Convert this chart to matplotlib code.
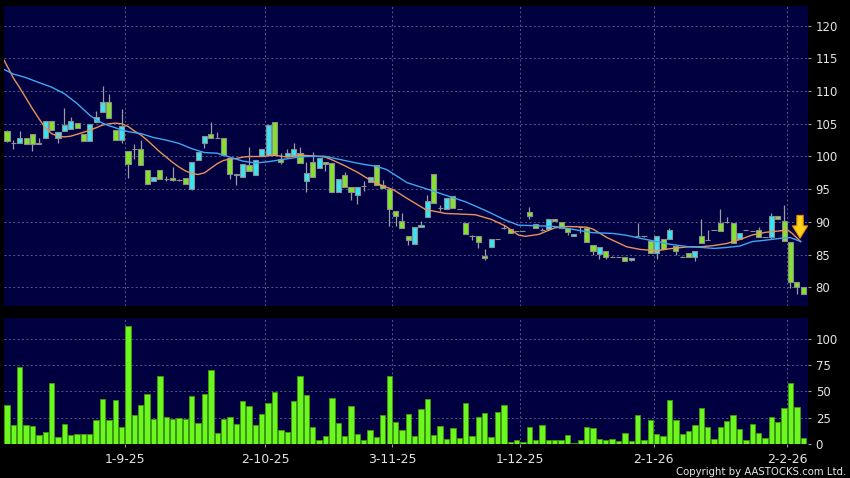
import numpy as np
import matplotlib
matplotlib.use('Agg')
import matplotlib.pyplot as plt

# daily candles, one entry per trading day (index 0 = first bar on the left)
opens = [103.9, 102.0, 102.0, 102.8, 103.4, 101.9, 102.8, 105.4, 102.9, 103.9,
         104.2, 105.1, 103.5, 102.3, 105.2, 106.8, 108.4, 104.0, 102.5, 100.9,
         101.1, 101.2, 98.0, 96.3, 98.0, 96.5, 96.7, 96.4, 96.7, 95.0,
         99.5, 102.0, 103.5, 102.9, 102.8, 99.7, 97.4, 96.9, 98.7, 97.2,
         100.0, 100.2, 105.2, 99.6, 100.1, 100.1, 100.6, 96.2, 99.2, 98.2,
         99.2, 99.0, 94.6, 97.1, 95.4, 94.1, 95.5, 96.1, 98.7, 95.7,
         95.0, 91.7, 90.1, 87.8, 86.7, 89.3, 90.7, 97.4, 92.2, 91.9,
         93.9, 92.0, 89.9, 87.9, 87.9, 84.8, 86.1, 87.4, 89.0, 88.9,
         88.6, 88.6, 91.5, 89.7, 88.8, 88.9, 90.5, 90.0, 89.0, 87.9,
         89.2, 89.1, 86.5, 85.1, 85.5, 84.7, 84.7, 84.7, 84.2, 87.8,
         87.8, 87.1, 85.3, 87.4, 87.4, 86.3, 84.6, 85.3, 84.6, 87.9,
         87.3, 88.7, 89.9, 90.0, 89.9, 87.4, 88.8, 88.6, 88.7, 87.7,
         87.7, 90.9, 90.2, 87.0, 80.8, 80.0]
closes = [102.3, 102.0, 102.9, 101.9, 101.9, 102.1, 105.4, 104.1, 103.8, 104.8,
          105.4, 104.3, 102.3, 105.0, 106.0, 108.4, 105.9, 102.5, 104.7, 98.9,
          101.1, 98.7, 95.8, 96.9, 96.6, 96.5, 96.4, 96.4, 95.8, 99.2,
          100.7, 103.1, 102.9, 102.9, 100.3, 97.3, 97.1, 98.8, 97.8, 99.5,
          101.1, 104.8, 100.2, 99.2, 100.5, 101.1, 99.0, 97.5, 96.9, 99.7,
          98.8, 94.6, 96.6, 95.4, 94.6, 95.4, 95.5, 96.9, 95.7, 95.2,
          91.9, 90.9, 89.0, 87.3, 89.3, 89.6, 93.2, 92.85, 92.2, 93.6,
          92.1, 92.0, 88.2, 87.9, 86.9, 84.5, 87.4, 87.4, 89.0, 88.35,
          88.6, 88.6, 90.9, 89.0, 88.8, 90.5, 90.1, 89.1, 88.5, 88.2,
          89.2, 87.0, 85.6, 86.1, 84.7, 84.7, 84.7, 84.0, 84.5, 87.8,
          87.8, 85.3, 87.9, 85.8, 88.8, 85.5, 84.6, 84.6, 85.5, 86.8,
          87.3, 88.7, 88.6, 90.0, 86.8, 88.3, 88.8, 88.6, 87.7, 87.7,
          90.9, 90.4, 87.1, 80.8, 80.0, 79.0]
highs = [104.0, 102.5, 103.9, 102.8, 103.4, 102.9, 105.5, 105.4, 103.8, 107.4,
         106.0, 105.1, 103.5, 105.0, 106.9, 110.7, 109.5, 104.0, 107.2, 100.9,
         101.9, 102.5, 98.0, 96.9, 98.0, 97.0, 98.4, 96.6, 96.7, 99.2,
         100.7, 103.1, 105.2, 103.8, 102.8, 99.7, 97.4, 98.8, 101.5, 99.5,
         101.1, 104.8, 105.2, 100.5, 101.2, 102.0, 101.5, 99.1, 100.7, 99.7,
         99.2, 99.0, 96.6, 97.6, 95.4, 95.4, 96.2, 96.9, 98.7, 96.4,
         95.0, 91.7, 91.3, 87.8, 89.3, 90.1, 94.1, 97.4, 92.6, 93.6,
         93.9, 92.0, 89.9, 88.0, 87.9, 85.9, 87.4, 87.4, 89.6, 88.9,
         88.6, 88.6, 92.3, 89.7, 89.0, 90.5, 90.5, 90.0, 89.0, 88.2,
         89.3, 89.1, 86.5, 86.1, 85.5, 84.8, 84.7, 84.7, 84.5, 89.9,
         87.9, 87.1, 87.9, 87.4, 89.1, 86.3, 84.8, 85.3, 85.6, 90.5,
         88.7, 88.7, 92.0, 90.8, 89.9, 88.3, 88.8, 88.6, 89.2, 87.7,
         91.4, 90.9, 92.6, 87.0, 80.8, 80.0]
lows = [102.2, 101.1, 102.0, 101.9, 100.9, 101.9, 102.8, 104.1, 102.0, 103.9,
        104.2, 104.3, 102.3, 102.3, 105.2, 106.8, 105.9, 102.5, 102.0, 96.7,
        99.6, 98.7, 95.8, 96.3, 96.6, 96.2, 96.2, 96.2, 95.8, 94.9,
        99.5, 101.3, 102.9, 102.9, 100.3, 96.6, 95.6, 96.9, 97.8, 97.2,
        100.0, 100.2, 100.2, 98.9, 100.1, 100.1, 99.0, 94.5, 96.9, 98.2,
        97.8, 94.6, 94.6, 95.4, 93.4, 92.8, 94.8, 96.1, 95.7, 95.2,
        89.4, 89.4, 89.0, 86.5, 86.7, 89.3, 90.7, 92.85, 91.6, 91.9,
        92.1, 92.0, 88.2, 87.2, 86.0, 84.2, 86.1, 87.4, 88.9, 88.35,
        88.6, 88.6, 90.5, 89.0, 88.6, 88.9, 90.1, 89.1, 88.0, 87.9,
        88.3, 87.0, 85.0, 84.4, 84.3, 84.7, 84.7, 84.0, 84.0, 87.8,
        87.7, 85.3, 84.4, 85.8, 87.4, 85.0, 84.6, 84.6, 84.1, 86.8,
        87.3, 88.7, 88.6, 89.8, 86.8, 87.4, 88.8, 88.6, 87.7, 87.7,
        87.4, 90.4, 87.1, 79.9, 79.0, 79.0]
volumes = [37, 18, 73.5, 18, 17, 8.6, 11, 58, 6, 19,
           8.3, 9, 9, 9, 23, 43, 22.6, 42, 16, 113,
           27, 37, 48, 24, 65, 25.5, 24, 25, 23.5, 46,
           19.4, 47.5, 71, 10, 24, 26, 18.5, 41, 35.7, 18,
           28.7, 38.5, 49, 13.5, 11, 41, 65, 46.5, 16, 3.5,
           7, 44, 20, 7.3, 36, 9, 3.8, 13, 6, 27,
           65, 20.7, 12.7, 28, 7.3, 33, 43, 8.3, 16.5, 4.8,
           14.6, 5.4, 39, 7.6, 25.5, 29, 6.4, 30.6, 37, 1.3,
           3.2, 1.3, 16, 3.8, 18, 3.2, 3.2, 3.5, 8, 0.5,
           3.5, 15.6, 15, 4.5, 3.5, 4.5, 2.2, 10, 2.5, 27,
           3.5, 23, 9.2, 7.6, 41.7, 22.6, 9, 12.4, 18, 34,
           16, 4.8, 16, 21.7, 27.7, 14, 3.5, 19, 10.5, 5,
           26, 20.7, 33.8, 58, 35, 5]

# moving averages (bar position, value)
ma_fast_x = [-0.45, 1, 2, 3, 4, 5, 6, 7, 8, 9, 10, 11, 12, 13, 14, 15, 16, 17, 18, 19,
             20, 21, 22, 23, 24, 25, 26, 27, 28, 29, 30, 31, 32, 33, 34, 35, 36, 37, 38, 40,
             42, 44, 46, 48, 50, 51, 53, 55, 57, 59, 60.7, 62.8, 64, 65.7, 68.8, 73.5, 76, 78.2,
             80.3, 81.4, 83.5, 86, 88, 91, 92, 94.2, 97.3, 99.4, 102, 104, 107, 109, 111, 113,
             115, 117, 119, 121.5, 122.5, 123.2, 124.6]
ma_fast = [114.7, 112.0, 110.5, 108.9, 107.3, 105.8, 104.4, 103.5, 103.1, 103.0, 103.1, 103.4,
           103.7, 104.0, 104.4, 104.8, 105.0, 105.1, 105.0, 104.6, 103.9, 103.3, 102.5, 101.6,
           100.7, 99.9, 99.1, 98.4, 97.8, 97.4, 97.25, 97.5, 98.2, 98.9, 99.4, 99.6, 99.7, 99.9,
           100.0, 100.0, 100.2, 99.9, 100.2, 100.1, 99.9, 99.5, 98.6, 97.6, 96.4, 95.5, 94.9,
           93.6, 92.9, 91.9, 91.3, 91.1, 90.4, 89.4, 88.0, 87.8, 88.1, 89.1, 89.3, 89.2, 88.9,
           87.6, 86.2, 85.8, 85.6, 85.9, 86.2, 86.2, 86.4, 86.7, 87.3, 88.0, 88.4, 88.65, 88.8,
           88.3, 87.0]
ma_slow_x = [-0.45, 1, 3, 5, 7, 9, 11, 12, 13, 14, 15, 16, 17, 18, 19, 21, 23, 25, 27, 29,
             31, 33, 35, 37, 39, 41, 43, 45, 47, 49.8, 52, 54.4, 56, 58, 59.6, 61.2, 62.8, 65.7,
             68.8, 71.9, 75, 78.2, 80.3, 83.5, 86, 88, 91, 92, 95, 97, 99.4, 102, 104, 107, 109,
             111, 113, 115, 117, 119, 121.5, 123, 124.6]
ma_slow = [113.3, 112.6, 112.05, 111.3, 110.6, 109.6, 108.1, 107.2, 106.3, 105.6, 105.1, 104.7,
           104.4, 104.05, 103.8, 103.5, 102.9, 102.5, 102.0, 101.2, 100.6, 100.5, 99.9, 99.3,
           99.0, 99.2, 99.5, 99.8, 100.0, 100.05, 99.6, 99.1, 98.8, 98.5, 98.0, 97.0, 96.0,
           95.1, 94.1, 93.1, 91.8, 90.3, 89.5, 89.4, 89.3, 89.0, 88.5, 88.35, 88.25, 88.0, 87.5,
           87.0, 86.6, 86.2, 86.1, 85.95, 86.1, 86.3, 87.0, 87.2, 87.5, 87.6, 87.0]

# first trading day of each labelled month
tick_idx = [19, 41, 61, 81, 102, 123]
tick_labels = ['1-9-25', '2-10-25', '3-11-25', '1-12-25', '2-1-26', '2-2-26']

navy = '#000040'
grid_col = '#58588a'
green = '#84e22c'
cyan = '#38e4f4'
edge = '#8e8e8e'

opens = np.array(opens)
closes = np.array(closes)
x = np.arange(len(closes))
tick_pos = np.array(tick_idx) - 0.5

fig = plt.figure(figsize=(8.5, 4.78), dpi=100, facecolor='black')
ax1 = fig.add_axes([4 / 850, 1 - 306 / 478, 804 / 850, 300 / 478], facecolor=navy)
ax2 = fig.add_axes([4 / 850, 1 - 443.7 / 478, 804 / 850, 125.4 / 478], facecolor=navy)

# candles
colors = np.where(closes > opens, cyan, np.where(closes < opens, green, edge))
ax1.vlines(x, lows, highs, color='#9c9ca4', lw=0.9, zorder=2)
ax1.bar(x, np.abs(closes - opens), bottom=np.minimum(opens, closes), width=0.8,
        color=colors, edgecolor=edge, linewidth=0.8, zorder=3)
ax1.plot(ma_fast_x, ma_fast, color='#e8925a', lw=1.0, zorder=4)
ax1.plot(ma_slow_x, ma_slow, color='#3fa6f2', lw=1.0, zorder=4)

# down arrow at the right end
ax1.arrow(len(closes) - 1.5, 91.0, 0, -3.5, width=1.0, head_width=2.4, head_length=1.9,
          length_includes_head=True, fc='#ffd21a', ec='#e08a00', lw=0.8, zorder=5)

# volume
ax2.bar(x, volumes, width=0.84, color='#6cf81e', edgecolor='#3f9a10', linewidth=0.6, zorder=3)

for ax in (ax1, ax2):
    ax.set_xlim(-0.47, 125.75)
    ax.set_xticks(tick_pos)
    ax.yaxis.tick_right()
    ax.grid(True, color=grid_col, linestyle=(0, (2, 2.5)), linewidth=0.7, zorder=1)
    ax.set_axisbelow(True)
    for s in ax.spines.values():
        s.set_visible(False)
    ax.tick_params(axis='y', colors='#9a9a9a', labelcolor='#e4e4e4', length=2.5,
                   width=0.8, pad=3, labelsize=8.5)

ax1.set_ylim(77.15, 123.0)
ax1.set_yticks(np.arange(80, 121, 5))
ax1.tick_params(axis='x', length=0, labelbottom=False)

ax2.set_ylim(0, 120)
ax2.set_yticks([0, 25, 50, 75, 100])
ax2.set_xticklabels(tick_labels)
ax2.tick_params(axis='x', colors='#9a9a9a', labelcolor='#e4e4e4', length=2.5,
                width=0.8, pad=4, labelsize=9)

fig.text(846 / 850, 1 - 471.7 / 478, 'Copyright by AASTOCKS.com Ltd.', color='#e8e8e8',
         ha='right', va='center', fontsize=7.3)

fig.savefig('out.png', dpi=100, facecolor='black')
